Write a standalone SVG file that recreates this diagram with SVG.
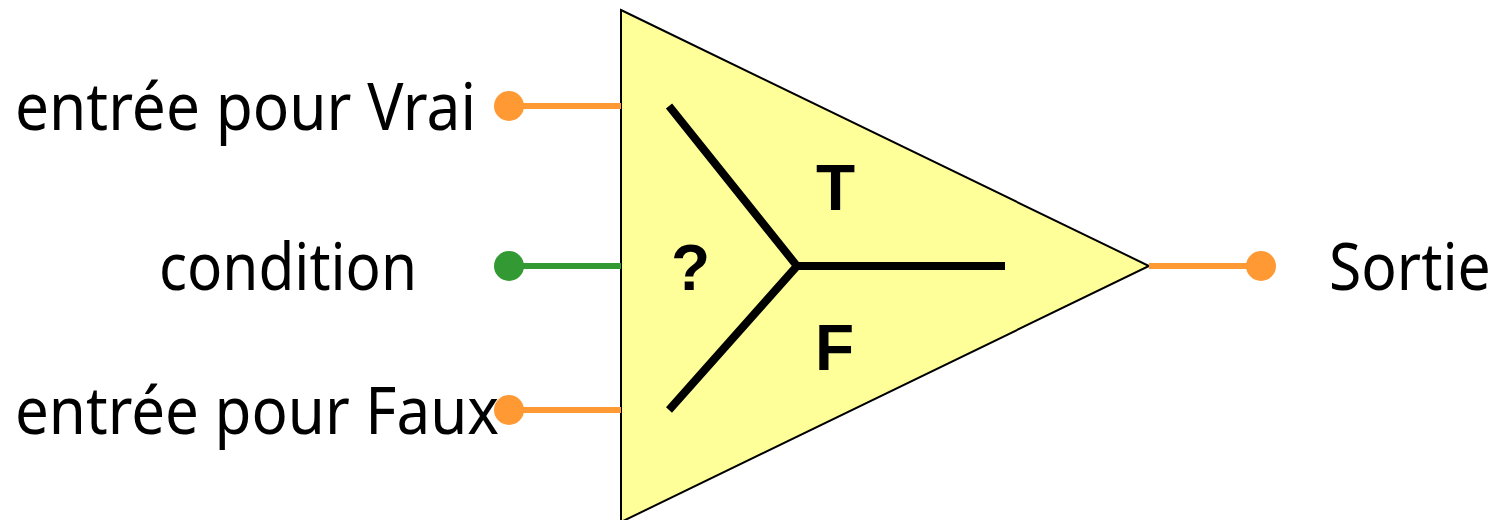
<svg xmlns="http://www.w3.org/2000/svg" width="1499" height="520" viewBox="0 0 1499 520">
<style>
.lbl{font-family:"Noto Sans","DejaVu Sans",sans-serif;font-size:65px;fill:#000}
.big{font-family:"Liberation Sans",Arial,sans-serif;font-weight:bold;font-size:64px;fill:#000}
.o{stroke:#ff9933;stroke-width:6;fill:none}
.g{stroke:#339933;stroke-width:6;fill:none}
.od{fill:#ff9933}.gd{fill:#339933}
.y{fill:none;stroke:#000;stroke-width:8}
</style>
<rect width="1499" height="520" fill="#fff"/>
<g id="mux"><polygon points="621,10 1149,266 621,522" fill="#ffff99" stroke="#000" stroke-width="2"/>
<path class="y" d="M669,106 L797,266 L669,410 M797,266 H1005"/>
<text class="big" x="671" y="290">?</text><text class="big" x="816" y="210">T</text><text class="big" x="815" y="370">F</text></g>
<g id="connectors">
<path class="o" d="M509,106H621"/><path class="g" d="M509,266H621"/><path class="o" d="M509,410H621"/><path class="o" d="M1149,266H1261"/>
</g>
<g id="in-true"><circle class="od" cx="509" cy="106" r="15"/><text class="lbl" x="15" y="130" textLength="461" lengthAdjust="spacingAndGlyphs">entrée pour Vrai</text></g>
<g id="in-cond"><circle class="gd" cx="509" cy="266" r="15"/><text class="lbl" x="159" y="290" textLength="258" lengthAdjust="spacingAndGlyphs">condition</text></g>
<g id="in-false"><circle class="od" cx="509" cy="410" r="15"/><text class="lbl" x="15" y="434" textLength="484" lengthAdjust="spacingAndGlyphs">entrée pour Faux</text></g>
<g id="out"><circle class="od" cx="1261" cy="266" r="15"/><text class="lbl" transform="translate(1329,290) scale(.905,1)">Sortie</text></g>
</svg>
